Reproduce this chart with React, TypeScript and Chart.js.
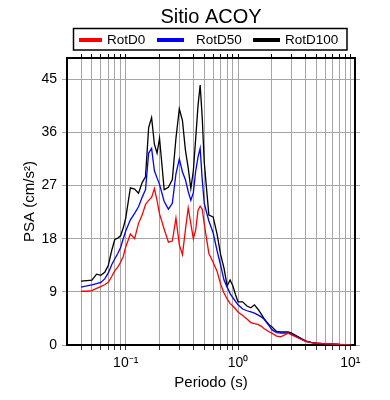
import React, { useEffect, useRef } from 'react';
import { Chart, registerables } from 'chart.js';

Chart.register(...registerables);

const TITLE = 'Sitio ACOY';
const X_TITLE = 'Periodo (s)';
const Y_TITLE = 'PSA (cm/s²)';

const periods = [
  0.04, 0.045, 0.05, 0.055, 0.06, 0.065, 0.07, 0.075, 0.08, 0.085, 0.09, 0.095,
  0.1, 0.11, 0.12, 0.13, 0.14, 0.15, 0.16, 0.17, 0.18, 0.19, 0.2,
  0.22, 0.24, 0.26, 0.28, 0.3, 0.32, 0.34, 0.36, 0.38, 0.4, 0.42, 0.44, 0.46, 0.48, 0.5,
  0.55, 0.6, 0.65, 0.7, 0.75, 0.8, 0.85, 0.9, 0.95,
  1.0, 1.1, 1.2, 1.3, 1.4, 1.5, 1.6, 1.7, 1.8, 1.9, 2.0,
  2.2, 2.4, 2.6, 2.8, 3.0,
  3.5, 4, 4.5, 5,
  6, 7, 8, 9, 10,
];

const rotD0 = [
  9.1, 9.1, 9.2, 9.6, 9.9, 10.2, 10.6, 11.6, 12.6, 13.2, 14.0, 15.0,
  16.6, 18.8, 18.0, 20.6, 22.0, 23.8, 24.5, 25.0, 26.5, 24.5, 22.2,
  19.6, 17.4, 17.6, 21.5, 17.0, 15.3, 19.5, 23.2, 20.5, 18.0, 19.5, 22.8, 23.5, 23.0, 20.5,
  15.5, 14.0, 12.5, 10.3, 8.8, 7.8, 7.0, 6.6, 6.1,
  5.6, 5.0, 4.4, 3.8, 3.6, 3.5, 3.2, 2.8, 2.5, 2.2, 2.0,
  1.5, 1.4, 1.7, 2.0, 1.7,
  1.1, 0.6, 0.4, 0.3,
  0.2, 0.14, 0.1, 0.08, 0.06,
];

const rotD50 = [
  9.8, 10.0, 10.2, 10.4, 10.6, 11.2, 12.2, 13.6, 14.6, 15.5, 16.5, 18.0,
  19.3, 21.2, 22.3, 23.4, 25.0, 26.3, 32.5, 33.3, 29.5, 28.3, 27.2,
  24.3, 23.0, 24.0, 29.0, 31.5, 29.3, 28.0, 26.0, 24.5, 25.8, 29.5, 31.8, 33.3, 28.0, 24.0,
  21.0, 19.0, 16.0, 13.5, 11.0, 9.8, 8.7, 8.0, 7.4,
  6.8, 6.1, 5.8, 5.6, 5.4, 5.1, 4.8, 4.4, 3.8, 3.2, 2.6,
  2.1, 2.0, 2.0, 2.0, 1.8,
  1.2, 0.6, 0.4, 0.3,
  0.2, 0.15, 0.1, 0.08, 0.06,
];

const rotD100 = [
  10.8, 10.9, 11.0, 12.0, 11.8, 12.3, 13.5, 16.0, 17.9, 18.1, 18.5, 19.8,
  21.5, 26.6, 26.4, 25.7, 27.5, 28.5, 36.8, 38.5, 34.0, 32.5, 35.0,
  26.3, 26.7, 28.0, 35.0, 40.0, 38.0, 33.0, 30.0, 26.5, 29.5, 35.0, 40.5, 44.0, 38.5, 31.0,
  22.0, 21.7, 18.8, 15.3, 13.0, 10.0, 11.0, 10.0, 8.5,
  7.3, 7.3, 6.6, 6.3, 6.8, 6.1, 5.3, 4.5, 3.9, 3.4, 3.1,
  2.3, 2.2, 2.2, 2.2, 2.0,
  1.3, 0.7, 0.45, 0.3,
  0.2, 0.15, 0.1, 0.08, 0.06,
];

const seriesLabels = ['RotD0', 'RotD50', 'RotD100'];
const seriesColors = ['#ff0000', '#0000ff', '#000000'];

const xGridTicks = [
  0.04, 0.05, 0.06, 0.07, 0.08, 0.09,
  0.1, 0.2, 0.3, 0.4, 0.5, 0.6, 0.7, 0.8, 0.9,
  1, 2, 3, 4, 5, 6, 7, 8, 9, 10,
];
const xLabelValues = [0.1, 1, 10];
const xLabelTexts = ['10⁻¹', '10⁰', '10¹'];
const yTicks = [0, 9, 18, 27, 36, 45];

const X_MIN = 0.03;
const X_MAX = 11;
const Y_MIN = 0;
const Y_MAX = 48.6;

const FONT = '"Liberation Sans", Arial, Helvetica, sans-serif';
const GRID = '#a6a6a6';

const titleLegendPlugin = {
  id: 'titleLegend',
  afterDraw(chart: any) {
    const { ctx, chartArea } = chart;
    ctx.save();
    // Title
    ctx.fillStyle = '#000';
    ctx.font = `20px ${FONT}`;
    ctx.textAlign = 'center';
    ctx.textBaseline = 'alphabetic';
    ctx.fillText(TITLE, (chartArea.left + chartArea.right) / 2, 23);
    // Legend box
    ctx.strokeStyle = '#000';
    ctx.lineWidth = 1.5;
    ctx.strokeRect(73.5, 28.5, 273.5, 21.5);
    const lineStarts = [79, 157, 253];
    const lineEnds = [102, 184, 280];
    const textStarts = [107, 196, 285];
    ctx.font = `13.5px ${FONT}`;
    ctx.textAlign = 'left';
    ctx.textBaseline = 'middle';
    chart.data.datasets.forEach((ds: any, i: number) => {
      ctx.strokeStyle = ds.borderColor;
      ctx.lineWidth = 4;
      ctx.beginPath();
      ctx.moveTo(lineStarts[i], 40);
      ctx.lineTo(lineEnds[i], 40);
      ctx.stroke();
      ctx.fillStyle = '#000';
      ctx.fillText(ds.label, textStarts[i], 40);
    });
    ctx.restore();
  },
};

const setXTicks = (s: any) => {
  s.ticks = xGridTicks.map((v) => ({ value: v }));
};
const setYTicks = (s: any) => {
  s.ticks = yTicks.map((v) => ({ value: v }));
};

export default function App() {
  const canvasRef = useRef<HTMLCanvasElement | null>(null);

  useEffect(() => {
    document.body.style.margin = '0';
    const canvas = canvasRef.current;
    if (!canvas) return;
    const seriesValues = [rotD0, rotD50, rotD100];
    const chart = new Chart(canvas, {
      type: 'line',
      data: {
        datasets: seriesValues.map((vals, i) => ({
          label: seriesLabels[i],
          data: periods.map((p, j) => ({ x: p, y: vals[j] })),
          borderColor: seriesColors[i],
          backgroundColor: seriesColors[i],
          borderWidth: 1.3,
          pointRadius: 0,
          tension: 0,
          fill: false,
        })),
      },
      options: {
        animation: false,
        responsive: true,
        maintainAspectRatio: false,
        devicePixelRatio: 1,
        layout: { padding: { top: 54, right: 30, left: 0, bottom: 0 } },
        plugins: {
          legend: { display: false },
          title: { display: false },
          tooltip: { enabled: false },
        },
        scales: {
          x: {
            type: 'logarithmic',
            position: 'bottom',
            min: X_MIN,
            max: X_MAX,
            afterBuildTicks: setXTicks,
            afterFit: (s: any) => { s.height = 55; },
            ticks: {
              autoSkip: false,
              maxRotation: 0,
              minRotation: 0,
              padding: 5,
              color: '#000',
              font: { family: FONT, size: 14 },
              callback: (v: any) => {
                const idx = xLabelValues.findIndex((lv) => Math.abs(lv - Number(v)) < 1e-9);
                return idx >= 0 ? xLabelTexts[idx] : '';
              },
            },
            grid: { color: GRID, lineWidth: 1, tickColor: '#333', tickLength: 5 },
            border: { color: '#000', width: 2 },
            title: {
              display: true,
              text: X_TITLE,
              color: '#000',
              font: { family: FONT, size: 15 },
              padding: { top: 0, bottom: 8 },
            },
          },
          x2: {
            type: 'logarithmic',
            position: 'top',
            min: X_MIN,
            max: X_MAX,
            afterBuildTicks: setXTicks,
            afterFit: (s: any) => { s.height = 4; },
            ticks: { display: false },
            grid: { drawOnChartArea: false, color: GRID, tickColor: '#000', tickLength: 4 },
            border: { color: '#000', width: 2 },
          },
          y: {
            type: 'linear',
            position: 'left',
            min: Y_MIN,
            max: Y_MAX,
            afterBuildTicks: setYTicks,
            afterFit: (s: any) => { s.width = 67; },
            ticks: {
              padding: 5,
              color: '#000',
              font: { family: FONT, size: 14 },
            },
            grid: { color: GRID, lineWidth: 1, tickColor: GRID, tickLength: 5 },
            border: { color: '#000', width: 2 },
            title: {
              display: true,
              text: Y_TITLE,
              color: '#000',
              font: { family: FONT, size: 15 },
              padding: { top: 21, bottom: 0 },
            },
          },
          y2: {
            type: 'linear',
            position: 'right',
            min: Y_MIN,
            max: Y_MAX,
            afterBuildTicks: setYTicks,
            afterFit: (s: any) => { s.width = 5; },
            ticks: { display: false },
            grid: { drawOnChartArea: false, color: GRID, tickColor: GRID, tickLength: 5 },
            border: { color: '#000', width: 2 },
          },
        },
      } as any,
      plugins: [titleLegendPlugin],
    });
    return () => chart.destroy();
  }, []);

  return (
    <div style={{ position: 'fixed', left: 0, top: 0, width: 390, height: 400, background: '#fff' }}>
      <canvas ref={canvasRef} />
    </div>
  );
}
